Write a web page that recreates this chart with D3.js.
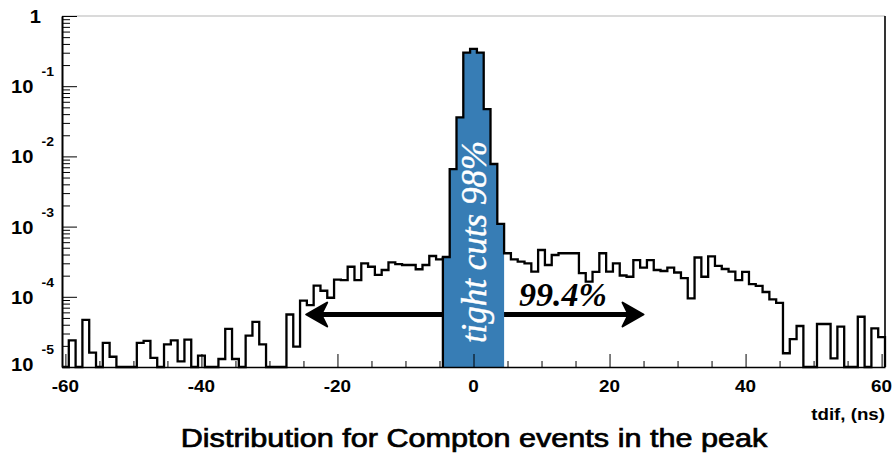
<!DOCTYPE html>
<html>
<head>
<meta charset="utf-8">
<script src="https://cdn.jsdelivr.net/npm/d3@7"></script>
<style>
  body { margin: 0; background: #fff; }
  svg { display: block; font-family: "Liberation Sans", Arial, sans-serif; }
</style>
</head>
<body>
<svg id="chart" width="893" height="454"></svg>
<script>
// one ns bins, centred on integers
const binCenters = d3.range(-60, 61);
const counts = [
  0, 2.4e-5, 0, 4.7e-5, 1.6e-5, 0, 2.2e-5, 1.4e-5, 0, 0,                          // -60..-51
  0, 2.2e-5, 2.35e-5, 1.35e-5, 0, 2.1e-5, 2.4e-5, 1.2e-5, 2.45e-5, 0,             // -50..-41
  1.45e-5, 0, 0, 1.3e-5, 3.5e-5, 1.3e-5, 0, 2.8e-5, 4.4e-5, 2.1e-5,               // -40..-31
  0, 0, 0, 5.6e-5, 1.95e-5, 8.8e-5, 7.6e-5, 1.44e-4, 1.22e-4, 9.7e-5,             // -30..-21
  1.76e-4, 1.73e-4, 2.68e-4, 1.73e-4, 3.0e-4, 2.68e-4, 2.05e-4, 2.41e-4, 3.1e-4, 2.93e-4, // -20..-11
  2.84e-4, 2.84e-4, 2.47e-4, 2.84e-4, 3.81e-4, 3.42e-4, 3.69e-4, 6.6e-3, 3.6e-2, 0.30,   // -10..-1
  0.34, 0.30, 4.7e-2, 7.8e-3, 1.09e-3, 4.17e-4, 3.42e-4, 3.16e-4, 3.0e-4, 2.28e-4,      // 0..9
  4.64e-4, 2.84e-4, 3.94e-4, 4.17e-4, 4.17e-4, 4.17e-4, 2.18e-4, 1.64e-4, 2.26e-4, 4.17e-4, // 10..19
  2.28e-4, 3.0e-4, 2.01e-4, 1.93e-4, 3.34e-4, 2.61e-4, 3.34e-4, 2.41e-4, 2.33e-4, 2.61e-4,  // 20..29
  2.22e-4, 1.84e-4, 9.5e-5, 3.63e-4, 1.93e-4, 3.77e-4, 2.75e-4, 2.49e-4, 2.28e-4, 1.73e-4,  // 30..39
  2.26e-4, 1.52e-4, 1.43e-4, 1.17e-4, 9.2e-5, 8.2e-5, 1.57e-5, 2.5e-5, 3.84e-5, 0,         // 40..49
  0, 4.1e-5, 4.1e-5, 1.33e-5, 3.75e-5, 0, 0, 5.2e-5, 0, 3.56e-5,                   // 50..59
  2.67e-5                                                                          // 60
];
const cutBins = [-4, 4];          // "tight cuts" region
const arrowSpan = [-24.6, 25];    // 99.4% window
const xTickLabels = [-60, -40, -20, 0, 20, 40, 60];
const yDecades = [-5, -4, -3, -2, -1, 0];

const svg = d3.select("#chart");
const x = d3.scaleLinear().domain([-60.5, 60.5]).range([62, 885]);
const y = d3.scaleLog().domain([1e-5, 1]).range([367, 16]);
const yv = v => y(Math.max(v, 1e-5));

const bins = binCenters.map((c, i) => ({ c: c, v: counts[i] }));

// text with the slightly wide look of the original
function label(px, py, str, opts) {
  const t = svg.append("text")
    .attr("transform", `translate(${px},${py}) scale(${opts.sx || 1},1)`)
    .attr("text-anchor", opts.anchor || "start")
    .attr("font-size", opts.size)
    .attr("font-weight", opts.weight || "normal")
    .text(str);
  return t;
}

// frame
svg.append("line").attr("x1", 62).attr("x2", 885).attr("y1", 16).attr("y2", 16)
  .attr("stroke", "#b5b5b5").attr("stroke-width", 1.2);
svg.append("line").attr("x1", 885).attr("x2", 885).attr("y1", 16).attr("y2", 367)
  .attr("stroke", "#000").attr("stroke-width", 1.6);

// double arrow (goes under the blue band)
const ay = 314.5;
const xa0 = x(arrowSpan[0]), xa1 = x(arrowSpan[1]);
svg.append("line").attr("x1", xa0 + 6).attr("x2", xa1 - 6).attr("y1", ay).attr("y2", ay)
  .attr("stroke", "#000").attr("stroke-width", 5);
svg.append("path")
  .attr("d", `M${xa0},${ay} L${xa0 + 21},${ay - 12} L${xa0 + 15},${ay} L${xa0 + 21},${ay + 12} Z`)
  .attr("fill", "#000").attr("stroke", "#000").attr("stroke-width", 2).attr("stroke-linejoin", "round");
svg.append("path")
  .attr("d", `M${xa1},${ay} L${xa1 - 21},${ay - 12} L${xa1 - 15},${ay} L${xa1 - 21},${ay + 12} Z`)
  .attr("fill", "#000").attr("stroke", "#000").attr("stroke-width", 2).attr("stroke-linejoin", "round");

// blue filled part of the histogram
const cut = bins.filter(d => d.c >= cutBins[0] && d.c <= cutBins[1]);
const cutPts = [];
cut.forEach(d => { cutPts.push([d.c - 0.5, d.v]); cutPts.push([d.c + 0.5, d.v]); });
svg.append("path")
  .datum(cutPts)
  .attr("d", d3.area().x(d => x(d[0])).y0(y(1e-5)).y1(d => yv(d[1])))
  .attr("fill", "#377db5");

// histogram outline
const stepPts = [[-60.5, 0]];
bins.forEach(d => { stepPts.push([d.c - 0.5, d.v]); stepPts.push([d.c + 0.5, d.v]); });
stepPts.push([60.5, 0]);
svg.append("path")
  .datum(stepPts)
  .attr("d", d3.line().x(d => x(d[0])).y(d => yv(d[1])))
  .attr("fill", "none").attr("stroke", "#000").attr("stroke-width", 2.3)
  .attr("stroke-linejoin", "miter");
// left edge of the filled band
svg.append("line")
  .attr("x1", x(cutBins[0] - 0.5)).attr("x2", x(cutBins[0] - 0.5))
  .attr("y1", y(1e-5)).attr("y2", yv(cut[0].v))
  .attr("stroke", "#000").attr("stroke-width", 2.3);

// x axis
const xAxis = svg.append("g").attr("transform", "translate(0,367)")
  .call(d3.axisBottom(x).tickValues(d3.range(-60, 61, 5)).tickSizeInner(-6).tickSizeOuter(0).tickFormat(""));
xAxis.select(".domain").attr("stroke-width", 1.6);
xAxis.selectAll(".tick line").attr("stroke-width", 1)
  .attr("y2", d => d % 20 === 0 ? -13 : -6);
xTickLabels.forEach(v => label(x(v), 392, String(v), { size: 16, weight: "bold", anchor: "middle", sx: 1.18 }));
label(885, 420, "tdif, (ns)", { size: 17, weight: "bold", anchor: "end", sx: 1.1 });

// y axis, log with 2..9 minor ticks
const yTicks = [];
yDecades.forEach(k => {
  yTicks.push(Math.pow(10, k));
  if (k < 0) d3.range(2, 10).forEach(m => yTicks.push(m * Math.pow(10, k)));
});
const yAxis = svg.append("g").attr("transform", "translate(62,0)")
  .call(d3.axisLeft(y).tickValues(yTicks).tickSizeInner(-8).tickSizeOuter(0).tickFormat(""));
yAxis.select(".domain").attr("stroke-width", 2);
yAxis.selectAll(".tick line").attr("stroke-width", 1)
  .attr("x2", d => Math.abs(Math.log10(d) - Math.round(Math.log10(d))) < 1e-9 ? 15 : 8);

yDecades.forEach(k => {
  const ty = y(Math.pow(10, k));
  if (k === 0) {
    label(41, ty + 7, "1", { size: 18, weight: "bold", anchor: "end", sx: 1.12 });
  } else {
    const shift = k === -5 ? -3.5 : 0;
    label(33.5, ty + 7 + shift, "10", { size: 18, weight: "bold", anchor: "end", sx: 1.12 });
    label(41.5, ty - 10 + shift, String(k), { size: 12.5, weight: "bold", sx: 1.12 });
  }
});

// annotations
svg.append("text")
  .attr("transform", `translate(486,242) rotate(-90)`)
  .attr("text-anchor", "middle")
  .attr("font-family", "'Liberation Serif', 'Times New Roman', serif")
  .attr("font-style", "italic")
  .attr("font-size", 35)
  .attr("fill", "#fff")
  .attr("stroke", "#fff").attr("stroke-width", 0.4)
  .text("tight cuts 98%");
svg.append("text")
  .attr("x", 519).attr("y", 306)
  .attr("font-family", "'Liberation Serif', 'Times New Roman', serif")
  .attr("font-style", "italic").attr("font-weight", "bold")
  .attr("font-size", 34)
  .text("99.4%");

// caption
label(474, 447, "Distribution for Compton events in the peak", { size: 25.5, anchor: "middle", sx: 1.2 })
  .attr("stroke", "#000").attr("stroke-width", 0.7);
</script>
</body>
</html>
